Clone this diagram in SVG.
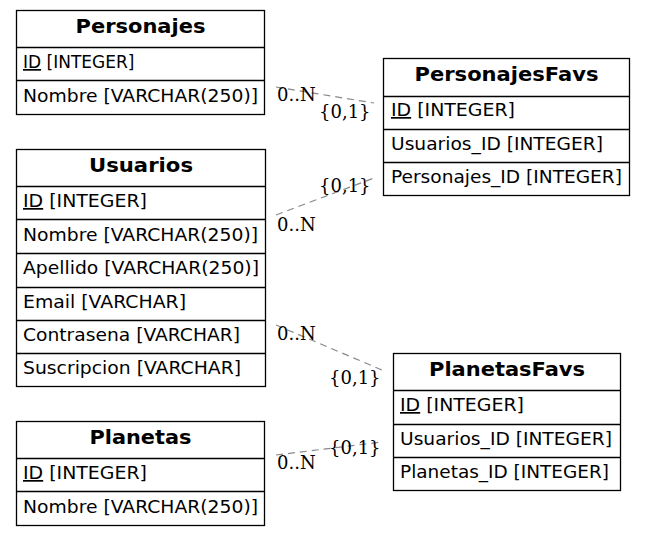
<svg xmlns="http://www.w3.org/2000/svg" width="645" height="536" viewBox="0 0 645 536">
  <style>
    .box { fill: #ffffff; stroke: #000000; stroke-width: 1.3; }
    .sep { stroke: #000000; stroke-width: 1.3; }
    .head { font-family: "DejaVu Sans", sans-serif; font-weight: bold; font-size: 19px; fill: #000; text-anchor: middle; }
    .col { font-family: "DejaVu Sans", sans-serif; font-size: 17px; fill: #000; }
    .pk { text-decoration: underline; }
    .edge { fill: none; stroke: #888888; stroke-width: 1.2; stroke-dasharray: 7,5; }
    .card { font-family: "DejaVu Serif", serif; font-size: 18px; fill: #000; }
  </style>
  <rect width="645" height="536" fill="#ffffff"/>

  <!-- relationships -->
  <g id="connectors">
    <path class="edge" d="M276,87 L374,103"/>
    <text class="card" x="277" y="101">0..N</text>
    <text class="card" x="319" y="118">{0,1}</text>

    <path class="edge" d="M276,215 L374,178"/>
    <text class="card" x="319" y="192">{0,1}</text>
    <text class="card" x="277" y="231">0..N</text>

    <path class="edge" d="M276,325 L382,370"/>
    <text class="card" x="277" y="340">0..N</text>
    <text class="card" x="329" y="384">{0,1}</text>

    <path class="edge" d="M276,455 L382,442"/>
    <text class="card" x="329" y="454">{0,1}</text>
    <text class="card" x="277" y="469">0..N</text>
  </g>

  <!-- Personajes -->
  <g id="Personajes">
    <rect class="box" x="16.5" y="10.5" width="248" height="104"/>
    <line class="sep" x1="16.5" y1="47.5" x2="264.5" y2="47.5"/>
    <line class="sep" x1="16.5" y1="80.5" x2="264.5" y2="80.5"/>
    <text class="head" x="140.5" y="33" textLength="130" lengthAdjust="spacingAndGlyphs">Personajes</text>
    <text class="col" x="23" y="68"><tspan class="pk">ID</tspan> [INTEGER]</text>
    <text class="col" x="23" y="102" textLength="235" lengthAdjust="spacingAndGlyphs">Nombre [VARCHAR(250)]</text>
  </g>

  <!-- Usuarios -->
  <g id="Usuarios">
    <rect class="box" x="16.5" y="149.5" width="249" height="237"/>
    <line class="sep" x1="16.5" y1="186.5" x2="265.5" y2="186.5"/>
    <line class="sep" x1="16.5" y1="219.5" x2="265.5" y2="219.5"/>
    <line class="sep" x1="16.5" y1="253.5" x2="265.5" y2="253.5"/>
    <line class="sep" x1="16.5" y1="287.5" x2="265.5" y2="287.5"/>
    <line class="sep" x1="16.5" y1="320.5" x2="265.5" y2="320.5"/>
    <line class="sep" x1="16.5" y1="353.5" x2="265.5" y2="353.5"/>
    <text class="head" x="141" y="172" textLength="104" lengthAdjust="spacingAndGlyphs">Usuarios</text>
    <text class="col" x="23" y="207" textLength="124" lengthAdjust="spacingAndGlyphs"><tspan class="pk">ID</tspan> [INTEGER]</text>
    <text class="col" x="23" y="241" textLength="235" lengthAdjust="spacingAndGlyphs">Nombre [VARCHAR(250)]</text>
    <text class="col" x="23" y="274" textLength="236" lengthAdjust="spacingAndGlyphs">Apellido [VARCHAR(250)]</text>
    <text class="col" x="23" y="308" textLength="163" lengthAdjust="spacingAndGlyphs">Email [VARCHAR]</text>
    <text class="col" x="23" y="341" textLength="217" lengthAdjust="spacingAndGlyphs">Contrasena [VARCHAR]</text>
    <text class="col" x="23" y="374" textLength="218" lengthAdjust="spacingAndGlyphs">Suscripcion [VARCHAR]</text>
  </g>

  <!-- Planetas -->
  <g id="Planetas">
    <rect class="box" x="16.5" y="421.5" width="248" height="104"/>
    <line class="sep" x1="16.5" y1="458.5" x2="264.5" y2="458.5"/>
    <line class="sep" x1="16.5" y1="491.5" x2="264.5" y2="491.5"/>
    <text class="head" x="140.5" y="444" textLength="102" lengthAdjust="spacingAndGlyphs">Planetas</text>
    <text class="col" x="23" y="479" textLength="124" lengthAdjust="spacingAndGlyphs"><tspan class="pk">ID</tspan> [INTEGER]</text>
    <text class="col" x="23" y="513" textLength="235" lengthAdjust="spacingAndGlyphs">Nombre [VARCHAR(250)]</text>
  </g>

  <!-- PersonajesFavs -->
  <g id="PersonajesFavs">
    <rect class="box" x="383.5" y="58.5" width="246" height="137"/>
    <line class="sep" x1="383.5" y1="96.5" x2="629.5" y2="96.5"/>
    <line class="sep" x1="383.5" y1="129.5" x2="629.5" y2="129.5"/>
    <line class="sep" x1="383.5" y1="162.5" x2="629.5" y2="162.5"/>
    <text class="head" x="506.5" y="81" textLength="184" lengthAdjust="spacingAndGlyphs">PersonajesFavs</text>
    <text class="col" x="391" y="116" textLength="124" lengthAdjust="spacingAndGlyphs"><tspan class="pk">ID</tspan> [INTEGER]</text>
    <text class="col" x="391" y="150" textLength="212" lengthAdjust="spacingAndGlyphs">Usuarios_ID [INTEGER]</text>
    <text class="col" x="391" y="183" textLength="231" lengthAdjust="spacingAndGlyphs">Personajes_ID [INTEGER]</text>
  </g>

  <!-- PlanetasFavs -->
  <g id="PlanetasFavs">
    <rect class="box" x="393.5" y="353.5" width="227" height="137"/>
    <line class="sep" x1="393.5" y1="390.5" x2="620.5" y2="390.5"/>
    <line class="sep" x1="393.5" y1="424.5" x2="620.5" y2="424.5"/>
    <line class="sep" x1="393.5" y1="457.5" x2="620.5" y2="457.5"/>
    <text class="head" x="507" y="376" textLength="156" lengthAdjust="spacingAndGlyphs">PlanetasFavs</text>
    <text class="col" x="400" y="411" textLength="124" lengthAdjust="spacingAndGlyphs"><tspan class="pk">ID</tspan> [INTEGER]</text>
    <text class="col" x="400" y="445" textLength="212" lengthAdjust="spacingAndGlyphs">Usuarios_ID [INTEGER]</text>
    <text class="col" x="400" y="478" textLength="209" lengthAdjust="spacingAndGlyphs">Planetas_ID [INTEGER]</text>
  </g>
</svg>
